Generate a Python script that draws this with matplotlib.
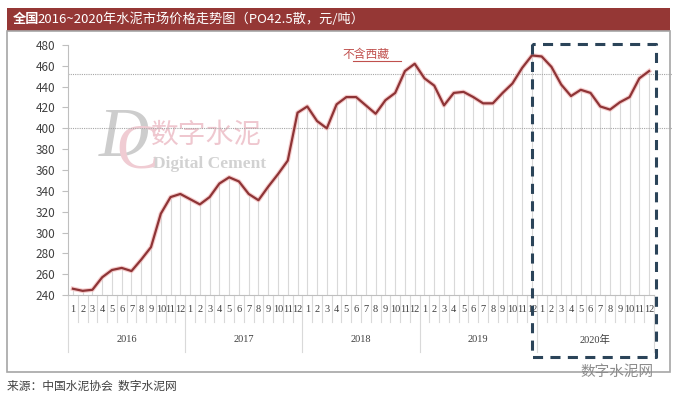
import numpy as np
import matplotlib.pyplot as plt
from matplotlib.patches import Rectangle
from matplotlib.transforms import blended_transform_factory

plt.rcParams['font.family'] = ['Noto Sans CJK SC', 'DejaVu Sans']

# monthly price, PO42.5 bulk, yuan/ton
years = ['2016', '2017', '2018', '2019', '2020年']
months = [str(m) for m in range(1, 13)]
price_2016 = [246, 244, 245, 257, 264, 266, 263, 274, 286, 318, 334, 337]
price_2017 = [332, 327, 334, 347, 353, 349, 337, 331, 344, 356, 369, 415]
price_2018 = [421, 407, 400, 423, 430, 430, 422, 414, 427, 434, 455, 462]
price_2019 = [448, 441, 422, 434, 435, 430, 424, 424, 434, 443, 458, 470]
price_2020 = [469, 459, 442, 431, 437, 434, 421, 418, 425, 430, 448, 455]
ref_lines = [400, 452]
yticks = list(range(240, 481, 20))

price = np.array(price_2016 + price_2017 + price_2018 + price_2019 + price_2020)
x = np.arange(len(price))

W, H = 678, 399
fig = plt.figure(figsize=(W / 100, H / 100), dpi=100)
fig.patch.set_facecolor('white')

def fx(px):
    return px / W

def fy(py):
    return 1 - py / H

# title bar and panel frame
fig.patches.append(Rectangle((fx(7), fy(31)), fx(663), 23 / H, transform=fig.transFigure,
                             facecolor='#953735', edgecolor='none', zorder=0))
fig.patches.append(Rectangle((fx(7), fy(372)), fx(663), 341 / H, transform=fig.transFigure,
                             facecolor='none', edgecolor='#A6A6A6', lw=1.2, zorder=0))
fig.text(fx(13), fy(19.5), '全国', color='white', fontsize=9.5, fontweight='bold', va='center')
fig.text(fx(37), fy(19.5), '2016~2020年水泥市场价格走势图（PO42.5散，元/吨）', color='white',
         fontsize=9.5, va='center')

ax = fig.add_axes([fx(68), fy(295), fx(654 - 68), 250 / H])
ax.set_xlim(-0.5, len(price) - 0.5)
ax.set_ylim(240, 480)
ax.patch.set_alpha(0)

# watermark
ax.text(0.052, 0.625, 'D', transform=ax.transAxes, fontsize=50, color='#CDCDCD',
        family='Liberation Serif', fontstyle='italic', va='center', ha='left', zorder=0)
ax.text(0.082, 0.57, 'C', transform=ax.transAxes, fontsize=46, color='#F0CCD3',
        family='Liberation Serif', va='center', ha='left', zorder=0)
ax.text(0.142, 0.64, '数字水泥', transform=ax.transAxes, fontsize=20, color='#EFC7CF',
        va='center', ha='left', zorder=0)
ax.text(0.145, 0.525, 'Digital Cement', transform=ax.transAxes, fontsize=12.5,
        color='#D2D2D2', family='Liberation Serif', fontweight='bold', va='center', ha='left', zorder=0)

# drop lines
ax.vlines(x, 240, price, color='#D9D9D9', lw=0.8, zorder=1)

# reference dotted lines
bt = blended_transform_factory(ax.transAxes, ax.transData)
for v in ref_lines:
    ax.plot([0, 1.03], [v, v], transform=bt, color='#A6A6A6', lw=0.8, ls=(0, (1, 1)),
            clip_on=False, zorder=1)

# price line with soft glow
ax.plot(x, price, color='#F2B8B8', lw=3.2, alpha=0.7, solid_joinstyle='round', zorder=2)
ax.plot(x, price, color='#8E3436', lw=1.6, solid_joinstyle='round', zorder=3)

# axes styling
for s in ['top', 'right']:
    ax.spines[s].set_visible(False)
ax.spines['left'].set_color('#BFBFBF')
ax.spines['bottom'].set_color('#BFBFBF')
ax.set_yticks(yticks)
ax.tick_params(axis='y', labelsize=8.5, colors='#BFBFBF', labelcolor='#404040', length=4, pad=5)
ax.set_xticks([])

# category axis: months and years
tx = blended_transform_factory(ax.transData, ax.transAxes)
for i in range(len(price)):
    ax.text(i, -0.056, months[i % 12], transform=tx, fontsize=7.5, family='Liberation Serif',
            color='#404040', ha='center', va='center')
for k in range(len(price) + 1):
    depth = -0.228 if k % 12 == 0 else -0.108
    ax.plot([k - 0.5, k - 0.5], [0, depth], transform=tx, color='#D9D9D9', lw=0.8, clip_on=False)
for j, yr in enumerate(years):
    ax.text(j * 12 + 5.5, -0.18, yr, transform=tx, fontsize=7.5, family=['Liberation Serif', 'Noto Sans CJK SC'],
            color='#404040', ha='center', va='center')

# note
ax.text(30, 1 - 9 / 250, '不含西藏', transform=tx, fontsize=8.5, color='#C0504D', ha='center', va='center')
ax.plot([28.7, 33.6], [1 - 16 / 250, 1 - 16 / 250], transform=tx, color='#C0504D', lw=0.8, clip_on=False)

# dashed highlight box around 2020
bf = blended_transform_factory(ax.transData, fig.transFigure)
box_x0, box_x1 = 47, 59.7
ax.plot([box_x0, box_x0, box_x1, box_x1, box_x0], [fy(44), fy(357), fy(357), fy(44), fy(44)],
        transform=bf, color='#2B4459', lw=2.2, ls=(0, (3.3, 2.4)), clip_on=False, zorder=5)

# footer
fig.text(fx(7), fy(386), '来源：中国水泥协会  数字水泥网', fontsize=8.5, color='#404040', va='center')
fig.text(fx(617), fy(372), '数字水泥网', fontsize=10.5, color='#8C8C8C', va='center', ha='center')

fig.savefig('out.png', dpi=100)
